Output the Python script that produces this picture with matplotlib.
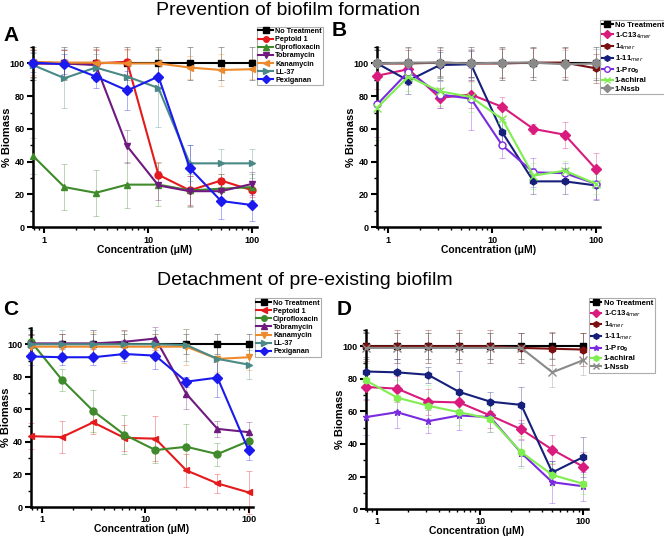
import numpy as np
import matplotlib
matplotlib.use("Agg")
import matplotlib.pyplot as plt
from matplotlib.ticker import FixedLocator, LogLocator, NullFormatter, FuncFormatter

plt.rcParams['font.family'] = ['Liberation Sans', 'DejaVu Sans']
plt.rcParams['mathtext.fontset'] = 'custom'
plt.rcParams['mathtext.rm'] = 'Liberation Sans:bold'
plt.rcParams['mathtext.bf'] = 'Liberation Sans:bold'

conc = [0.78125, 1.5625, 3.125, 6.25, 12.5, 25, 50, 100]

# Panel A - Prevention, controls/antibiotics
A_labels = ["No Treatment", "Peptoid 1", "Ciprofloxacin", "Tobramycin", "Kanamycin", "LL-37", "Pexiganan"]
A_vals = [
    [100, 100, 100, 100, 100, 100, 100, 100],
    [100, 100, 100, 101, 32, 22.5, 28.5, 22.5],
    [43.5, 24.5, 21, 26, 26, 22.5, 23.5, 24.5],
    [100, 100, 99, 49.5, 25.5, 22, 22, 26.5],
    [101, 100.5, 100.5, 100, 100, 97.5, 96, 96.5],
    [99, 91, 97.5, 92, 85, 39, 39, 39],
    [100.5, 99.5, 92, 83.5, 92, 36, 16, 13.5],
]
A_err = [
    [10, 10, 10, 10, 10, 10, 10, 10],
    [8, 8, 9, 8, 8, 9, 4, 4],
    [11, 14, 14, 14, 13, 10, 9, 8],
    [8, 8, 9, 10, 9, 9, 8, 7],
    [8, 8, 8, 8, 8, 7, 10, 6],
    [8, 18, 8, 9, 24, 11, 9, 9],
    [6, 6, 7, 12, 9, 14, 11, 10],
]
A_colors = ["#000000", "#e41a1c", "#3f8a2a", "#6e1a7e", "#ec8a2e", "#4a8a86", "#1a1aee"]
A_markers = ["s", "o", "^", "v", "<", ">", "D"]

# Panel B - Prevention, peptoid variants
B_labels = ["No Treatment", "1-C13$_{4mer}$", "1$_{4mer}$", "1-11$_{mer}$", "1-Pro$_{9}$", "1-achiral", "1-Nssb"]
B_vals = [
    [100, 100, 100, 100, 100, 100, 100, 100],
    [92.5, 96.5, 79, 81, 73.5, 60, 56.5, 35.5],
    [100, 100, 100.5, 100, 100, 100.5, 100.5, 97],
    [100, 89.5, 99, 99.5, 58, 28, 28, 25.5],
    [75, 95, 81, 78.5, 50, 33.5, 33, 26.5],
    [73, 92, 83, 79.5, 66, 31.5, 34.5, 26.5],
    [100, 100.5, 100.5, 100, 100.5, 100.5, 99.5, 100],
]
B_err = [
    [10, 10, 10, 10, 10, 10, 10, 10],
    [8, 6, 6, 8, 6, 3, 8, 10],
    [8, 8, 8, 8, 9, 9, 9, 9],
    [8, 8, 8, 8, 8, 8, 8, 9],
    [20, 8, 8, 19, 8, 9, 6, 9],
    [20, 9, 9, 9, 9, 8, 6, 6],
    [9, 9, 9, 9, 9, 9, 9, 9],
]
B_colors = ["#000000", "#d81b7c", "#7a1010", "#16207a", "#7a2be0", "#80ee50", "#8a8a8a"]
B_markers = ["s", "D", "h", "h", "o", "x", "D"]
B_fill = [True, True, True, True, False, True, True]

# Panel C - Detachment, controls/antibiotics
C_labels = A_labels
C_vals = [
    [100, 100, 100, 100, 100, 100, 100, 100],
    [43.5, 43, 52, 42.5, 42, 22.5, 14.5, 9],
    [101.5, 78, 59, 44.5, 35, 37, 32.5, 40.5],
    [100.5, 100.5, 100.5, 101.5, 103.5, 69.5, 48, 46],
    [98.5, 98.5, 98.5, 98.5, 98.5, 98.5, 91, 92],
    [100, 100, 100, 100, 100, 99.5, 91, 87.5],
    [92.5, 92, 92, 94, 93, 77, 79.5, 35],
]
C_err = [
    [6, 6, 6, 6, 6, 6, 6, 6],
    [8, 10, 7, 8, 14, 10, 6, 13],
    [4, 7, 13, 12, 8, 14, 7, 6],
    [5, 6, 8, 7, 7, 9, 5, 6],
    [8, 8, 9, 10, 8, 11, 8, 8],
    [9, 9, 9, 8, 9, 10, 9, 9],
    [5, 5, 5, 4, 8, 3, 12, 6],
]
C_colors = A_colors
C_markers = ["s", "<", "o", "^", "v", ">", "D"]

# Panel D - Detachment, peptoid variants
D_labels = B_labels
D_vals = [
    [100, 100, 100, 100, 100, 100, 100, 100],
    [75, 74, 66, 65.5, 57.5, 49, 36.5, 26],
    [100, 100, 100, 100, 100, 99, 98.5, 98],
    [84.5, 84, 82.5, 72, 66, 64, 22.5, 32],
    [56.5, 59.5, 54, 57.5, 56.5, 34.5, 16.5, 14],
    [79, 68.5, 63.5, 59.5, 55.5, 35, 21, 15.5],
    [99, 99, 99, 99, 99, 99, 84, 91.5],
]
D_err = [
    [8, 8, 8, 8, 8, 8, 8, 8],
    [8, 8, 8, 8, 8, 6, 9, 9],
    [9, 10, 10, 10, 10, 9, 10, 10],
    [9, 8, 5, 13, 6, 11, 7, 12],
    [11, 10, 7, 9, 9, 8, 13, 9],
    [8, 11, 13, 8, 8, 10, 7, 6],
    [9, 9, 9, 9, 9, 9, 9, 9],
]
D_colors = B_colors
D_markers = ["s", "D", "h", "h", "*", "h", "x"]
D_fill = [True] * 7

fig = plt.figure(figsize=(6.64, 5.41), dpi=100)

def draw(rect, labels, vals, errs, colors, markers, fills, leg_anchor, leg_fs, leg_hl,
         letter, letter_pos):
    ax = fig.add_axes(rect)
    for lab, v, e, c, m, f in zip(labels, vals, errs, colors, markers, fills):
        ax.errorbar(conc, v, yerr=e, fmt='none', ecolor=c, elinewidth=0.6, capsize=2,
                    capthick=0.6, alpha=0.4, zorder=2, clip_on=False)
    for lab, v, e, c, m, f in zip(labels, vals, errs, colors, markers, fills):
        ax.plot(conc, v, color=c, marker=m, markersize=5 if m != 'x' else 6,
                markerfacecolor=c if f else 'white', markeredgecolor=c,
                markeredgewidth=1.0, linewidth=1.5, label=lab, zorder=3, clip_on=False)
    ax.set_xscale('log')
    ax.set_xlim(0.78, 110)
    ax.set_ylim(0, 110)
    ax.yaxis.set_major_locator(FixedLocator([0, 20, 40, 60, 80, 100]))
    ax.yaxis.set_minor_locator(FixedLocator([10, 30, 50, 70, 90, 110]))
    ax.xaxis.set_major_locator(FixedLocator([1, 10, 100]))
    ax.xaxis.set_major_formatter(FuncFormatter(lambda x, p: "%d" % x))
    ax.xaxis.set_minor_locator(LogLocator(base=10, subs=np.arange(2, 10)))
    ax.xaxis.set_minor_formatter(NullFormatter())
    for s in ['top', 'right']:
        ax.spines[s].set_visible(False)
    for s in ['left', 'bottom']:
        ax.spines[s].set_linewidth(1.8)
    ax.tick_params(which='major', length=4, width=1.5, labelsize=6.5, pad=2)
    ax.tick_params(which='minor', length=2.5, width=1.0)
    for t in ax.get_xticklabels() + ax.get_yticklabels():
        t.set_fontweight('bold')
    ax.set_xlabel("Concentration (\u03bcM)", fontsize=7.5, fontweight='bold', va='center')
    ax.xaxis.set_label_coords(0.5, -0.125)
    ax.set_ylabel("% Biomass", fontsize=8, fontweight='bold', va='center')
    ax.yaxis.set_label_coords(-0.115, 0.5)
    leg = ax.legend(loc='upper left', bbox_to_anchor=leg_anchor, bbox_transform=fig.transFigure,
                    fontsize=leg_fs, frameon=True, fancybox=False, edgecolor='#999999',
                    handlelength=leg_hl, handletextpad=0.3, borderpad=0.2, labelspacing=0.15,
                    borderaxespad=0)
    leg.get_frame().set_linewidth(0.8)
    for t in leg.get_texts():
        t.set_fontweight('bold')
    for h in leg.legend_handles:
        h.set_markersize(4)
        h.set_linewidth(1.5)
    fig.text(letter_pos[0], letter_pos[1], letter, fontsize=15, fontweight='bold',
             ha='center', va='center')
    return ax

draw([0.0497, 0.580, 0.337, 0.333], A_labels, A_vals, A_err, A_colors, A_markers, [True]*7,
     (0.387, 0.951), 5.2, 2.0, "A", (0.016, 0.935))
draw([0.568, 0.580, 0.336, 0.333], B_labels, B_vals, B_err, B_colors, B_markers, B_fill,
     (0.904, 0.963), 5.6, 1.4, "B", (0.511, 0.943))
draw([0.0467, 0.0628, 0.334, 0.331], C_labels, C_vals, C_err, C_colors, C_markers, [True]*7,
     (0.384, 0.449), 5.2, 2.0, "C", (0.016, 0.427))
draw([0.551, 0.059, 0.334, 0.331], D_labels, D_vals, D_err, D_colors, D_markers, D_fill,
     (0.887, 0.449), 5.6, 1.4, "D", (0.518, 0.427))

fig.text(0.235, 1 - 15 / 541, "Prevention of biofilm formation", fontsize=14,
         ha='left', va='baseline')
fig.text(0.237, 1 - 285 / 541, "Detachment of pre-existing biofilm", fontsize=14,
         ha='left', va='baseline')

fig.savefig("out.png", dpi=100)
